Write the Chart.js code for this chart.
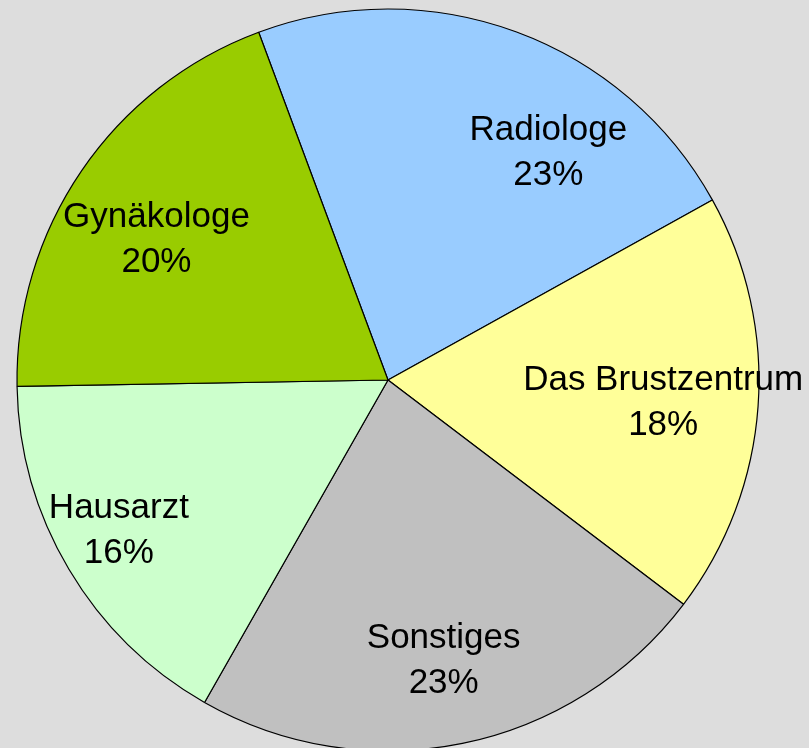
<!DOCTYPE html>
<html>
<head>
<meta charset="utf-8">
<script src="https://cdn.jsdelivr.net/npm/chart.js@4.4.0/dist/chart.umd.min.js"></script>
<style>
  html, body { margin: 0; padding: 0; background: #dddddd; overflow: hidden; }
  #myChart { display: block; }
</style>
</head>
<body>
<canvas id="myChart" width="809" height="760"></canvas>
<script>
// slices, clockwise from the top-left edge
var categories = ['Radiologe', 'Das Brustzentrum', 'Sonstiges', 'Hausarzt', 'Gynäkologe'];
var shares = [22.6, 18.4, 22.9, 16.49, 19.61];
var sliceColors = ['#99ccff', '#ffff99', '#c0c0c0', '#ccffcc', '#99cc00'];

// where each label sits: angle shift from slice middle (deg), fraction of radius
var labelShift = [14.8, 0.4, 0.3, 1.6, -2.8];
var labelRadius = [0.752, 0.744, 0.767, 0.83, 0.732];

var sliceLabels = {
    id: 'sliceLabels',
    afterDatasetsDraw: function(chart) {
        var ctx = chart.ctx;
        var meta = chart.getDatasetMeta(0);
        var data = chart.data.datasets[0].data;
        var total = data.reduce(function(a, b) { return a + b; }, 0);
        ctx.save();
        ctx.fillStyle = '#000';
        ctx.font = '35px "Liberation Sans", Arial, sans-serif';
        ctx.textAlign = 'center';
        ctx.textBaseline = 'middle';
        meta.data.forEach(function(arc, i) {
            var p = arc.getProps(['x', 'y', 'startAngle', 'endAngle', 'outerRadius'], true);
            var mid = (p.startAngle + p.endAngle) / 2 + labelShift[i] * Math.PI / 180;
            var r = p.outerRadius * labelRadius[i];
            var x = p.x + Math.cos(mid) * r;
            var y = p.y + Math.sin(mid) * r;
            ctx.fillText(chart.data.labels[i], x, y - 21);
            ctx.fillText(Math.round(data[i] / total * 100) + '%', x, y + 24);
        });
        ctx.restore();
    }
};

var ctx = document.getElementById('myChart').getContext('2d');
var chart = new Chart(ctx, {
    type: 'pie',
    data: {
        labels: categories,
        datasets: [{
            data: shares,
            backgroundColor: sliceColors,
            borderColor: '#000',
            borderWidth: 1.2
        }]
    },
    options: {
        responsive: false,
        animation: false,
        rotation: -20.4,
        radius: 371,
        layout: { padding: { left: 0, right: 33, top: 0, bottom: 0 } },
        plugins: {
            legend: { display: false },
            tooltip: { enabled: false }
        }
    },
    plugins: [sliceLabels]
});
</script>
</body>
</html>
